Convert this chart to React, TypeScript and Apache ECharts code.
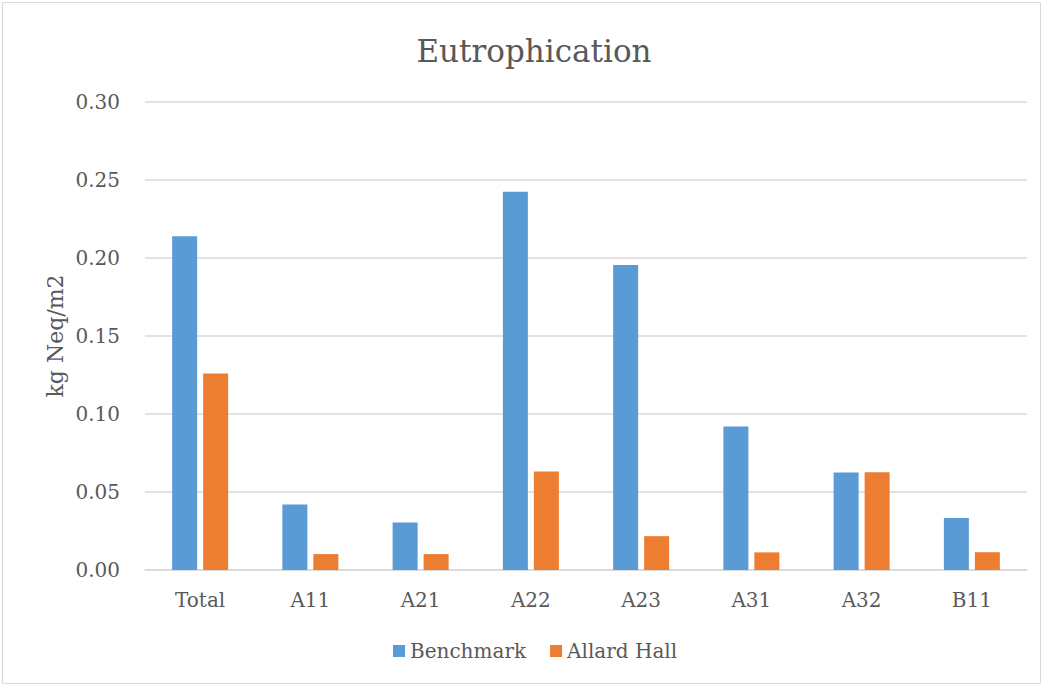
import React, { useEffect, useRef } from "react";
import * as echarts from "echarts";

const categories = ["Total", "A11", "A21", "A22", "A23", "A31", "A32", "B11"];
const benchmark = [0.214, 0.042, 0.0305, 0.2425, 0.1955, 0.092, 0.0625, 0.0333];
const allardHall = [0.126, 0.0102, 0.0102, 0.0632, 0.0217, 0.0113, 0.0627, 0.0114];
const yTicks = { min: 0, max: 0.3, interval: 0.05 };

const FONT = "'DejaVu Serif', 'Liberation Serif', serif";
const TEXT = "#595959";

export default function App() {
  const ref = useRef<HTMLDivElement>(null);

  useEffect(() => {
    if (!ref.current) return;
    const chart = echarts.init(ref.current, undefined, { renderer: "svg" });
    chart.setOption({
      animation: false,
      backgroundColor: "#ffffff",
      title: {
        text: "Eutrophication",
        left: 529,
        textAlign: "center",
        top: 30,
        textStyle: { fontFamily: FONT, fontSize: 31, fontWeight: "normal", color: TEXT },
      },
      legend: {
        bottom: 21,
        left: 388,
        itemWidth: 12,
        itemHeight: 12,
        itemGap: 24,
        icon: "rect",
        textStyle: { fontFamily: FONT, fontSize: 20, color: TEXT },
        data: ["Benchmark", "Allard Hall"],
      },
      grid: { left: 145, right: 18, top: 102, bottom: 117 },
      xAxis: {
        type: "category",
        data: categories,
        axisLine: { lineStyle: { color: "#d9d9d9", width: 1.5 } },
        axisTick: { show: false },
        axisLabel: { fontFamily: FONT, fontSize: 20, color: TEXT, margin: 20 },
      },
      yAxis: {
        type: "value",
        min: yTicks.min,
        max: yTicks.max,
        interval: yTicks.interval,
        name: "kg Neq/m2",
        nameLocation: "middle",
        nameGap: 79,
        nameMoveOverlap: false,
        nameTextStyle: { fontFamily: FONT, fontSize: 22, color: TEXT },
        axisLine: { show: false },
        axisTick: { show: false },
        splitLine: { lineStyle: { color: "#d9d9d9", width: 1.5 } },
        axisLabel: {
          fontFamily: FONT,
          fontSize: 20,
          color: TEXT,
          margin: 25,
          formatter: (v: number) => v.toFixed(2),
        },
      },
      series: [
        {
          name: "Benchmark",
          type: "bar",
          data: benchmark,
          barWidth: 25,
          barGap: "24%",
          itemStyle: { color: "#5B9BD5" },
        },
        {
          name: "Allard Hall",
          type: "bar",
          data: allardHall,
          barWidth: 25,
          barGap: "24%",
          itemStyle: { color: "#ED7D31" },
        },
      ],
      graphic: [
        {
          type: "rect",
          shape: { x: 2.5, y: 2.5, width: 1038, height: 681 },
          style: { fill: "none", stroke: "#d9d9d9", lineWidth: 1 },
          silent: true,
        },
      ],
    });
    return () => chart.dispose();
  }, []);

  return (
    <div
      ref={ref}
      style={{ position: "fixed", left: 0, top: 0, width: 1045, height: 687 }}
    />
  );
}
